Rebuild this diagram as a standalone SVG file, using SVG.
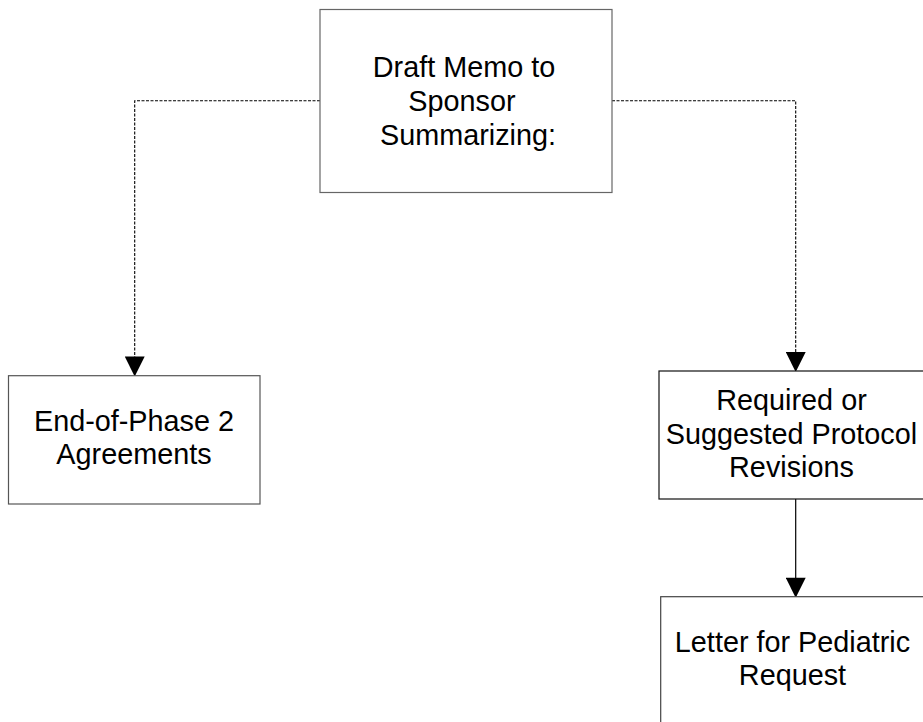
<svg xmlns="http://www.w3.org/2000/svg" width="923" height="722" viewBox="0 0 923 722">
<style>
.box{fill:#fff;stroke-width:1.2}
.t{font-family:"Liberation Sans",Arial,sans-serif;font-size:28.8px;fill:#000;text-anchor:middle}
.dash{fill:none;stroke:#000;stroke-width:1.1;stroke-dasharray:3,1.5}
.solid{fill:none;stroke:#000;stroke-width:1.2}
</style>
<defs>
<marker id="ah" markerWidth="21" markerHeight="20" refX="20" refY="10.5" orient="auto" markerUnits="userSpaceOnUse" viewBox="0 0 21 21">
<path d="M0,0 L21,10.5 L0,21 Z" fill="#000"/>
</marker>
</defs>
<rect width="923" height="722" fill="#fff"/>
<g id="connectors">
<path class="dash" d="M320,100.7 H134.7 V375.5" marker-end="url(#ah)"/>
<path class="dash" d="M612,100.7 H795.7 V371" marker-end="url(#ah)"/>
<path class="solid" d="M795.7,499 V596.7" marker-end="url(#ah)"/>
</g>
<g id="node-memo">
<rect class="box" x="320" y="9.5" width="292" height="183" stroke="#666"/>
<text class="t" x="464" y="77.3">Draft Memo to</text>
<text class="t" x="462" y="111">Sponsor</text>
<text class="t" x="468" y="145">Summarizing:</text>
</g>
<g id="node-eop2">
<rect class="box" x="8.5" y="375.7" width="251.5" height="128.3" stroke="#555"/>
<text class="t" x="134" y="430.7">End-of-Phase 2</text>
<text class="t" x="134" y="464">Agreements</text>
</g>
<g id="node-protocol">
<rect class="box" x="659" y="371" width="270" height="128" stroke="#111"/>
<text class="t" x="791.5" y="410">Required or</text>
<text class="t" x="791.5" y="443.5">Suggested Protocol</text>
<text class="t" x="791.5" y="477">Revisions</text>
</g>
<g id="node-pediatric">
<rect class="box" x="660.7" y="596.7" width="270" height="140" stroke="#444"/>
<text class="t" x="792.5" y="651.7">Letter for Pediatric</text>
<text class="t" x="792.5" y="685">Request</text>
</g>
</svg>
